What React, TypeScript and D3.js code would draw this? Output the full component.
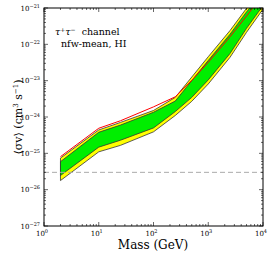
import * as d3 from 'd3';
import React, { useRef, useEffect } from 'react';

// dark matter mass (GeV)
const masses = [2, 10, 25, 100, 250, 500, 1000, 2500, 5000, 10000];
// <sigma v> limits (cm^3 s^-1)
const observed = [8.1e-26, 4.9e-25, 7.9e-25, 1.9e-24, 3.6e-24, 1.02e-23, 3.2e-23, 1.62e-22, 6.0e-22, 2.3e-21];
const upper95 = [7.4e-26, 4.4e-25, 7.1e-25, 1.51e-24, 3.47e-24, 1.26e-23, 4.57e-23, 2.4e-22, 9.8e-22, 3.24e-21];
const upper68 = [5.9e-26, 3.8e-25, 6.0e-25, 1.35e-24, 2.75e-24, 1.0e-23, 3.6e-23, 1.9e-22, 7.8e-22, 2.6e-21];
const lower68 = [2.45e-26, 1.48e-25, 2.3e-25, 5.0e-25, 1.41e-24, 3.47e-24, 1.05e-23, 5.6e-23, 2.75e-22, 1.17e-21];
const lower95 = [1.78e-26, 1.1e-25, 1.66e-25, 3.9e-25, 1.1e-24, 2.7e-24, 8.1e-24, 4.4e-23, 2.14e-22, 9.3e-22];

const thermal = 3e-26;
const xTicks = [0, 1, 2, 3, 4];
const yTicks = [-27, -26, -25, -24, -23, -22, -21];

const App = () => {
    const ref = useRef(null);

    useEffect(() => {
        const svg = d3.select(ref.current);
        svg.selectAll('*').remove();

        const left = 44, right = 263, top = 8, bottom = 226;
        const font = 'DejaVu Serif';

        const x = d3.scaleLog().domain([1, 1e4]).range([left, right]);
        const y = d3.scaleLog().domain([1e-27, 1e-21]).range([bottom, top]);

        svg.append('clipPath').attr('id', 'plot')
            .append('rect')
            .attr('x', left).attr('y', top)
            .attr('width', right - left).attr('height', bottom - top);

        const g = svg.append('g').attr('clip-path', 'url(#plot)');

        const band = (lo, hi) => d3.area()
            .x((d, i) => x(masses[i]))
            .y0((d, i) => y(lo[i]))
            .y1((d, i) => y(hi[i]))(masses);

        g.append('path')
            .attr('d', band(lower95, upper95) + 'Z')
            .attr('fill', '#ffff00')
            .attr('stroke', '#333')
            .attr('stroke-width', 0.8);

        g.append('path')
            .attr('d', band(lower68, upper68) + 'Z')
            .attr('fill', '#00ee00')
            .attr('stroke', '#333')
            .attr('stroke-width', 0.8);

        const line = d3.line()
            .x((d, i) => x(masses[i]))
            .y(d => y(d));

        g.append('path')
            .attr('d', line(observed))
            .attr('fill', 'none')
            .attr('stroke', '#ff0000')
            .attr('stroke-width', 1);

        g.append('line')
            .attr('x1', left).attr('x2', right)
            .attr('y1', y(thermal)).attr('y2', y(thermal))
            .attr('stroke', '#aaaaaa')
            .attr('stroke-width', 1)
            .attr('stroke-dasharray', '5,3');

        // ticks, inward on all sides
        const ticks = svg.append('g').attr('stroke', '#000').attr('stroke-width', 0.6);
        xTicks.forEach(e => {
            for (let k = 1; k <= 9; k++) {
                const v = k * Math.pow(10, e);
                if (v > 1e4) continue;
                const len = k === 1 ? 4 : 2;
                const px = x(v);
                ticks.append('line').attr('x1', px).attr('x2', px).attr('y1', bottom).attr('y2', bottom - len);
                ticks.append('line').attr('x1', px).attr('x2', px).attr('y1', top).attr('y2', top + len);
            }
        });
        yTicks.forEach(e => {
            for (let k = 1; k <= 9; k++) {
                const v = k * Math.pow(10, e);
                if (v > 1e-21 * 1.0001) continue;
                const len = k === 1 ? 4 : 2;
                const py = y(v);
                ticks.append('line').attr('x1', left).attr('x2', left + len).attr('y1', py).attr('y2', py);
                ticks.append('line').attr('x1', right).attr('x2', right - len).attr('y1', py).attr('y2', py);
            }
        });

        svg.append('rect')
            .attr('x', left).attr('y', top)
            .attr('width', right - left).attr('height', bottom - top)
            .attr('fill', 'none')
            .attr('stroke', '#000')
            .attr('stroke-width', 1);

        // tick labels
        xTicks.forEach(e => {
            const t = svg.append('text')
                .attr('x', x(Math.pow(10, e)) - 2)
                .attr('y', 236)
                .attr('text-anchor', 'middle')
                .attr('font-family', font)
                .attr('font-size', 7);
            t.append('tspan').text('10');
            t.append('tspan').attr('dy', -3).attr('font-size', 5).text(e);
        });
        yTicks.forEach(e => {
            const t = svg.append('text')
                .attr('x', 40)
                .attr('y', y(Math.pow(10, e)) + 2.5)
                .attr('text-anchor', 'end')
                .attr('font-family', font)
                .attr('font-size', 7);
            t.append('tspan').text('10');
            t.append('tspan').attr('dy', -3).attr('font-size', 5).text('\u2212' + (-e));
        });

        // axis labels
        svg.append('text')
            .attr('x', 153)
            .attr('y', 249)
            .attr('text-anchor', 'middle')
            .attr('font-family', font)
            .attr('font-size', 12)
            .text('Mass (GeV)');

        const yl = svg.append('text')
            .attr('transform', 'translate(22,117) rotate(-90)')
            .attr('text-anchor', 'middle')
            .attr('font-family', font)
            .attr('font-size', 11);
        yl.append('tspan').text('\u27E8\u03C3v\u27E9 (cm');
        yl.append('tspan').attr('dy', -4).attr('font-size', 7).text('3');
        yl.append('tspan').attr('dy', 4).text(' s');
        yl.append('tspan').attr('dy', -4).attr('font-size', 7).text('\u22121');
        yl.append('tspan').attr('dy', 4).text(')');

        // annotation
        const a1 = svg.append('text')
            .attr('x', 55).attr('y', 35)
            .attr('font-family', font)
            .attr('font-size', 9.5);
        a1.append('tspan').attr('font-style', 'italic').text('\u03C4');
        a1.append('tspan').attr('dy', -3.5).attr('font-size', 6).text('+');
        a1.append('tspan').attr('dy', 3.5).attr('font-style', 'italic').text('\u03C4');
        a1.append('tspan').attr('dy', -3.5).attr('font-size', 6).text('\u2212');
        a1.append('tspan').attr('dy', 3.5).text('\u00A0 channel');

        svg.append('text')
            .attr('x', 61).attr('y', 47)
            .attr('font-family', font)
            .attr('font-size', 9.5)
            .text('nfw-mean, HI');
    }, []);

    return (
        <svg ref={ref} width={274} height={257}
            style={{ position: 'absolute', left: 0, top: 0, background: '#fff' }}>
        </svg>
    );
};

export default App;
